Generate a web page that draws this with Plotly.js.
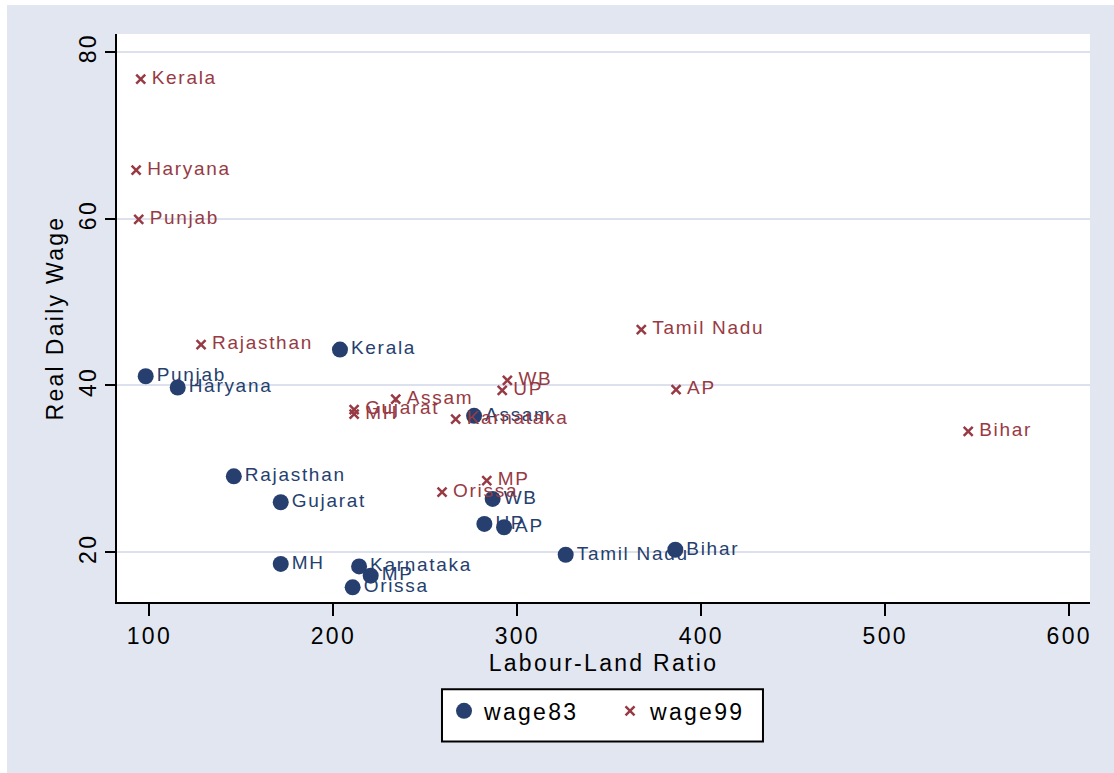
<!DOCTYPE html>
<html>
<head>
<meta charset="utf-8">
<script src="https://cdn.plot.ly/plotly-3.0.1.min.js"></script>
<style>
  html, body { margin: 0; padding: 0; background: #ffffff; }
  #chart { position: absolute; left: 7px; top: 5px; width: 1107px; height: 768px; }
  .main-svg text { letter-spacing: 2.3px; }
  .main-svg .textpoint text { letter-spacing: 1.7px; }
</style>
</head>
<body>
<div id="chart"></div>
<script>
// State names
const states83 = ["Punjab","Haryana","Kerala","Rajasthan","Gujarat","MH","Karnataka","MP","Orissa","Assam","WB","UP","AP","Tamil Nadu","Bihar"];
const ratio83  = [98.0, 115.4, 203.6, 145.9, 171.4, 171.4, 214.0, 220.3, 210.5, 276.5, 286.6, 282.1, 292.8, 326.3, 385.9];
const wage83   = [41.1, 39.75, 44.3, 29.1, 26.0, 18.6, 18.3, 17.2, 15.8, 36.35, 26.4, 23.4, 23.0, 19.7, 20.3];

const states99 = ["Kerala","Haryana","Punjab","Rajasthan","Gujarat","MH","Assam","Karnataka","WB","UP","MP","Orissa","Tamil Nadu","AP","Bihar"];
const ratio99  = [95.3, 92.8, 94.2, 128.1, 211.3, 211.3, 233.9, 266.5, 294.6, 291.8, 283.4, 259.1, 367.4, 386.3, 545.1];
const wage99   = [76.7, 65.8, 59.9, 44.9, 37.1, 36.55, 38.35, 35.95, 40.6, 39.4, 28.6, 27.2, 46.7, 39.5, 34.5];

const xTicks = [100, 200, 300, 400, 500, 600];
const yTicks = [20, 40, 60, 80];

const NAVY = "#263f6e";
const MAROON = "#973a44";
const FONT = "Liberation Sans, Arial, sans-serif";

const traces = [
  {
    type: "scatter", mode: "markers+text", name: "wage83",
    x: ratio83, y: wage83, text: states83,
    textposition: "middle right",
    textfont: { family: FONT, size: 19, color: NAVY },
    marker: { symbol: "circle", size: 16, color: NAVY },
    hoverinfo: "skip", cliponaxis: false
  },
  {
    type: "scatter", mode: "markers", name: "wage99",
    x: ratio99, y: wage99,
    marker: { symbol: "x-thin-open", size: 9, color: MAROON, line: { color: MAROON, width: 2.5 } },
    hoverinfo: "skip", cliponaxis: false
  },
  {
    type: "scatter", mode: "markers+text", name: "wage99 labels", showlegend: false,
    x: ratio99, y: wage99, text: states99,
    textposition: "middle right",
    textfont: { family: FONT, size: 19, color: MAROON },
    marker: { size: 16, color: "rgba(0,0,0,0)" },
    hoverinfo: "skip", cliponaxis: false
  }
];

const layout = {
  width: 1107, height: 768,
  paper_bgcolor: "#e1e6f0",
  plot_bgcolor: "#ffffff",
  margin: { l: 110, r: 24, t: 29, b: 171 },
  font: { family: FONT, size: 23, color: "#000000" },
  showlegend: true,
  xaxis: {
    range: [82.4, 611.3],
    tickvals: xTicks, ticktext: xTicks.map(String),
    ticks: "outside", ticklen: 12, tickwidth: 2, tickcolor: "#000",
    showline: true, linecolor: "#000", linewidth: 2,
    showgrid: false, zeroline: false,
    tickfont: { family: FONT, size: 23, color: "#000" },
    title: { text: "Labour-Land Ratio", font: { family: FONT, size: 23, color: "#000" }, standoff: 7 },
    automargin: false
  },
  yaxis: {
    range: [14.04, 82.12],
    tickvals: yTicks, ticktext: yTicks.map(String),
    tickangle: -90,
    ticks: "outside", ticklen: 10, tickwidth: 2, tickcolor: "#000",
    showline: true, linecolor: "#000", linewidth: 2,
    showgrid: true, gridcolor: "#dce1ed", gridwidth: 2,
    zeroline: false,
    tickfont: { family: FONT, size: 23, color: "#000" },
    title: { text: "Real Daily Wage", font: { family: FONT, size: 23, color: "#000" }, standoff: 5 },
    automargin: false
  },
  shapes: [
    {
      type: "rect", xref: "paper", yref: "paper",
      x0: 0.3340, x1: 0.6639, y0: -0.1538, y1: -0.2454,
      fillcolor: "#ffffff", line: { color: "#000000", width: 2 }, layer: "below"
    }
  ],
  legend: {
    orientation: "h",
    x: 0.3361, xanchor: "left",
    y: -0.1538, yanchor: "top",
    bgcolor: "rgba(0,0,0,0)", borderwidth: 0,
    font: { family: FONT, size: 23, color: "#000" },
    entrywidth: 121, entrywidthmode: "pixels",
    itemclick: false
  }
};

Plotly.newPlot("chart", traces, layout, { staticPlot: true, displayModeBar: false });
</script>
</body>
</html>
